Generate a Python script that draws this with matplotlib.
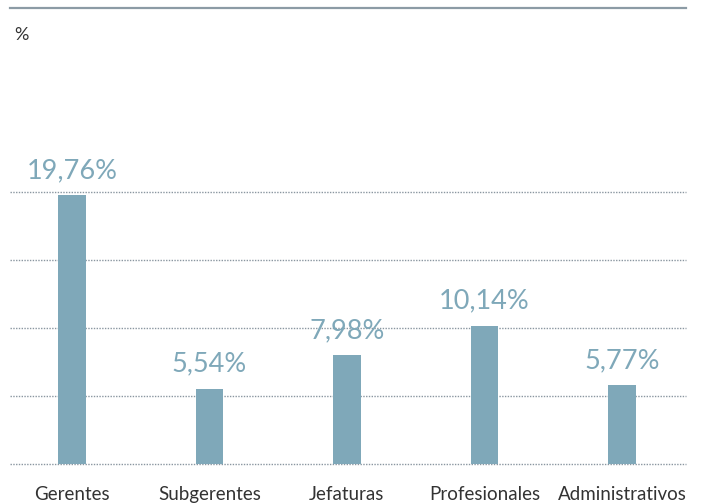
import matplotlib.pyplot as plt

categories = ["Gerentes", "Subgerentes", "Jefaturas", "Profesionales", "Administrativos"]
values = [19.76, 5.54, 7.98, 10.14, 5.77]
labels = ["19,76%", "5,54%", "7,98%", "10,14%", "5,77%"]
grid_vals = [5, 10, 15, 20]

bar_color = "#7fa8b9"
plt.rcParams["font.family"] = ["Lato", "DejaVu Sans"]

fig = plt.figure(figsize=(7.02, 5.03), dpi=100)
ax = fig.add_axes([0.0142, 0.0775, 0.9628, 0.9065])

x = list(range(len(categories)))
ax.bar(x, values, width=0.2, color=bar_color, zorder=3)
for xi, v, lab in zip(x, values, labels):
    ax.text(xi, v + 0.9, lab, ha="center", va="bottom", fontsize=19.5,
            color=bar_color)

for g in [0] + grid_vals:
    ax.axhline(g, color="#8a96a0", lw=1, ls=(0, (1, 1)), zorder=1, clip_on=False)

ax.set_xlim(-0.451, 4.465)
ax.set_ylim(0, 33.5)
ax.set_xticks(x)
ax.set_xticklabels(categories, fontsize=13.5, color="#333333")
ax.tick_params(axis="x", length=0, pad=16)
ax.set_yticks([])
for s in ["left", "right", "bottom"]:
    ax.spines[s].set_visible(False)
ax.spines["top"].set_color("#8c9ba5")
ax.spines["top"].set_linewidth(1.6)

fig.text(0.02, 0.93, "%", fontsize=13, color="#333333", ha="left", va="center")

fig.savefig("out.png", dpi=100)
